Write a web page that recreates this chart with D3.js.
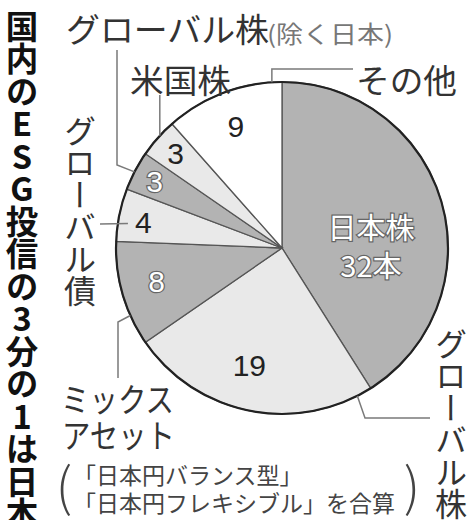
<!DOCTYPE html>
<html>
<head>
<meta charset="utf-8">
<script src="https://cdn.jsdelivr.net/npm/d3@7"></script>
<style>
body { margin: 0; background: #fff; }
text { font-family: "Noto Sans CJK JP", sans-serif; }
.vert { writing-mode: vertical-rl; text-orientation: upright; }
</style>
</head>
<body>
<script>
// data, clockwise from 12 o'clock
var categories = ["日本株", "グローバル株", "ミックスアセット", "グローバル債", "グローバル株(除く日本)", "米国株", "その他"];
var counts = [32, 19, 8, 4, 3, 3, 9];
var valueLabels = ["32本", "19", "8", "4", "3", "3", "9"];
var title = "国内のESG投信の3分の1は日本株";
var noteLines = ["「日本円バランス型」", "「日本円フレキシブル」を合算"];

var width = 473, height = 520;
var cx = 282, cy = 248, radius = 166;
var shade = ["#b3b3b3", "#e9e9e9", "#b3b3b3", "#e9e9e9", "#b3b3b3", "#e9e9e9", "#ffffff"];
var onDark = [true, false, true, false, true, false, false];
// label placement (radius, angle shift from slice middle)
var labelR = [89, 122, 130, 141, 144, 142, 130];
var labelShift = [14, 4, 1, -1, 0, 0, 0];

var svg = d3.select("body").append("svg").attr("width", width).attr("height", height);

var pie = d3.pie().sort(null).value(function (d) { return d; });
var arcs = pie(counts);
var arc = d3.arc().innerRadius(0).outerRadius(radius);

function polar(deg, r) {
  var a = deg * Math.PI / 180;
  return [cx + r * Math.sin(a), cy - r * Math.cos(a)];
}
function midDeg(d) { return (d.startAngle + d.endAngle) / 2 * 180 / Math.PI; }

var g = svg.append("g").attr("transform", "translate(" + cx + "," + cy + ")");

g.selectAll("path.slice")
  .data(arcs)
  .enter()
  .append("path")
  .attr("class", "slice")
  .attr("d", arc)
  .attr("fill", function (d, i) { return shade[i]; })
  .attr("stroke", "#555")
  .attr("stroke-width", 1.3);

g.append("circle")
  .attr("r", radius)
  .attr("fill", "none")
  .attr("stroke", "#222")
  .attr("stroke-width", 2.2);

// value labels
arcs.forEach(function (d, i) {
  var p = polar(midDeg(d) + labelShift[i], labelR[i]);
  var t = svg.append("text")
    .attr("x", p[0])
    .attr("y", p[1])
    .attr("text-anchor", "middle")
    .attr("dominant-baseline", "central")
    .style("font-family", '"Liberation Sans", sans-serif')
    .style("font-size", "30px")
    .attr("fill", onDark[i] ? "#fff" : "#222")
    .attr("stroke", onDark[i] ? "#666" : "none")
    .attr("stroke-width", onDark[i] ? 2.5 : 0)
    .attr("paint-order", "stroke");
  if (i === 0) {
    t.style("font-family", null).style("font-size", "29px");
    t.append("tspan").attr("x", p[0]).attr("dy", "-0.65em").text(categories[0]);
    t.append("tspan").attr("x", p[0]).attr("dy", "1.3em").text(valueLabels[0]);
  } else {
    t.text(valueLabels[i]);
  }
});

// leader lines
var leaders = [
  [polar(153, radius), [365, 418], [430, 418]],
  [polar(246, radius), [118, 322], [118, 378]],
  [polar(279, radius - 10), [100, 224]],
  [polar(297.3, radius), [117, 165], [117, 50]],
  [polar(312.6, radius), [polar(312.6, radius)[0], 95]],
  [polar(356.5, radius), [polar(356.5, radius)[0], 69], [353, 69]]
];
svg.selectAll("path.leader")
  .data(leaders)
  .enter()
  .append("path")
  .attr("class", "leader")
  .attr("d", d3.line())
  .attr("fill", "none")
  .attr("stroke", "#7a7a7a")
  .attr("stroke-width", 1.5);

// category labels
var ink = "#333";
var lab = svg.append("g").attr("fill", ink).style("font-size", "33px");

function hlabel(x, y, txt, len) {
  return lab.append("text")
    .attr("x", x)
    .attr("y", y)
    .attr("dominant-baseline", "central")
    .attr("textLength", len)
    .attr("lengthAdjust", "spacingAndGlyphs")
    .text(txt);
}
hlabel(66, 28, "グローバル株", 203);
lab.append("text").attr("x", 267).attr("y", 32).attr("dominant-baseline", "central")
  .attr("fill", "#777").style("font-size", "24px")
  .attr("textLength", 126).attr("lengthAdjust", "spacingAndGlyphs").text("(除く日本)");
hlabel(130, 79, categories[5], 101);
hlabel(356, 79, categories[6], 101);
hlabel(61, 398, "ミックス", 113);
hlabel(62, 434, "アセット", 113);

lab.append("text").attr("class", "vert").attr("x", 80).attr("y", 115).style("font-size", "32px").text(categories[3]);
lab.append("text").attr("class", "vert").attr("x", 451).attr("y", 328).style("font-size", "32px").text("グローバル株");

var note = svg.append("g").attr("fill", "#444").style("font-size", "23px");
note.selectAll("text.note")
  .data(noteLines)
  .enter()
  .append("text")
  .attr("class", "note")
  .attr("x", 73)
  .attr("y", function (d, i) { return 474 + i * 28; })
  .attr("dominant-baseline", "central")
  .text(function (d) { return d; });
note.append("text").attr("x", 64).attr("y", 483).attr("text-anchor", "middle")
  .attr("dominant-baseline", "central").style("font-size", "52px").style("font-weight", 300).text("(");
note.append("text").attr("x", 412).attr("y", 483).attr("text-anchor", "middle")
  .attr("dominant-baseline", "central").style("font-size", "52px").style("font-weight", 300).text(")");

// title
svg.append("text")
  .attr("class", "vert")
  .attr("x", 22)
  .attr("y", 10)
  .attr("fill", "#111")
  .style("font-size", "32.5px")
  .style("font-weight", "bold")
  .text(title);
</script>
</body>
</html>
